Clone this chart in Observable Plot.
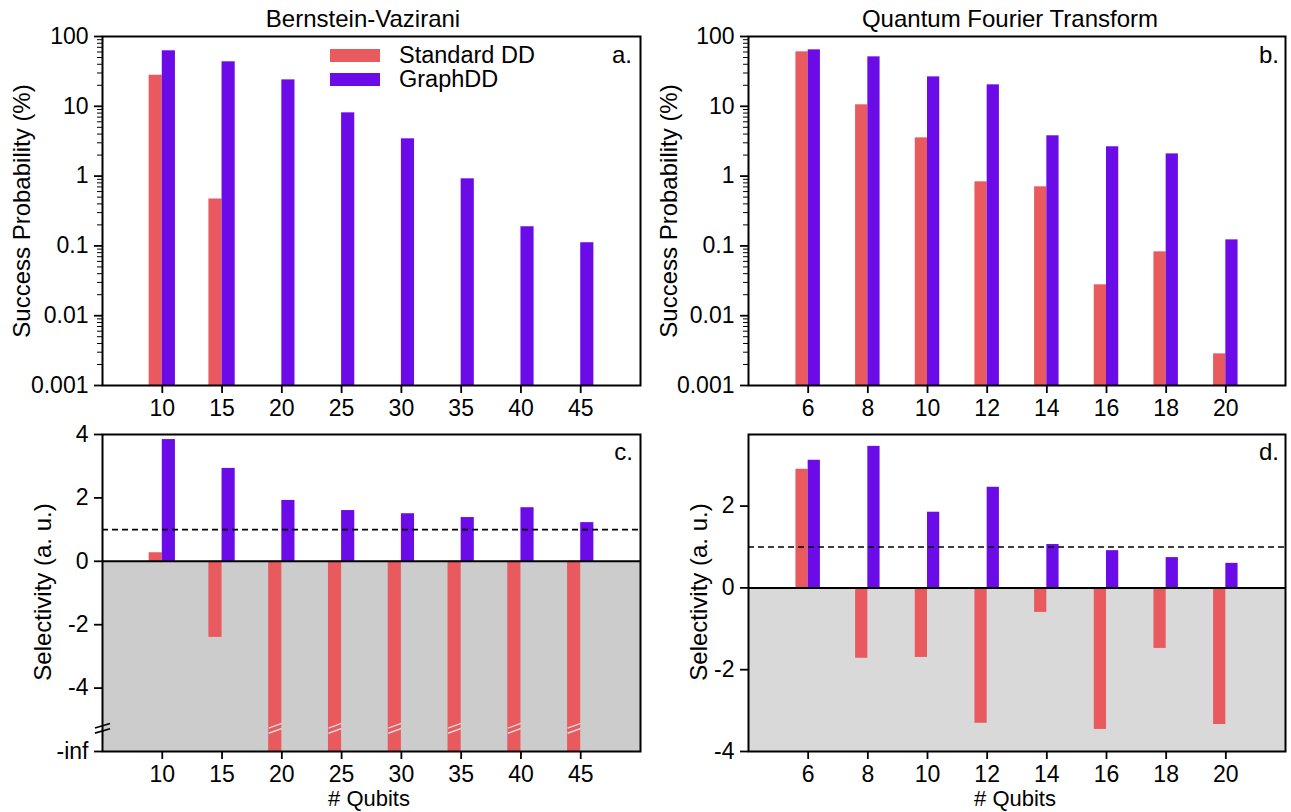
<!DOCTYPE html>
<html><head><meta charset="utf-8">
<script src="https://cdn.jsdelivr.net/npm/d3@7"></script>
<script src="https://cdn.jsdelivr.net/npm/@observablehq/plot@0.6"></script>
<style>
body{margin:0;background:#fff;}
#root{position:relative;width:1291px;height:812px;font-family:"Liberation Sans",Arial,sans-serif;color:#000;overflow:hidden;}
.p{position:absolute;}
.c{position:absolute;white-space:nowrap;font-size:24px;line-height:1;transform:translate(-50%,-50%);}
.x{position:absolute;white-space:nowrap;font-size:22px;line-height:1;transform:translate(-50%,-50%);}
.r{position:absolute;white-space:nowrap;font-size:24px;line-height:1;transform:translate(-100%,-50%);}
.l{position:absolute;white-space:nowrap;font-size:23.5px;line-height:0.9;transform:translate(0,-50%);}
.v{position:absolute;white-space:nowrap;font-size:24px;line-height:1;transform:translate(-50%,-50%) rotate(-90deg);}
.sw{position:absolute;width:50px;height:13px;}
</style></head><body><div id="root"></div>
<script>
// ---- data ----
const seriesNames = ["Standard DD", "GraphDD"];
const seriesColors = ["#E85A5E", "#6A0BE8"];

const bvQubits = [10, 15, 20, 25, 30, 35, 40, 45];
const bvStdProb = [27.9, 0.47, null, null, null, null, null, null];
const bvGraphProb = [62.4, 43.4, 23.9, 8.06, 3.42, 0.914, 0.188, 0.111];
const bvStdSel = [0.27, -2.4, -Infinity, -Infinity, -Infinity, -Infinity, -Infinity, -Infinity];
const bvGraphSel = [3.84, 2.93, 1.92, 1.6, 1.5, 1.38, 1.69, 1.22];

const qftQubits = [6, 8, 10, 12, 14, 16, 18, 20];
const qftStdProb = [60.3, 10.5, 3.53, 0.828, 0.702, 0.0277, 0.0822, 0.00284];
const qftGraphProb = [64.4, 51.1, 26.4, 20.3, 3.78, 2.63, 2.08, 0.122];
const qftStdSel = [2.9, -1.72, -1.7, -3.31, -0.6, -3.46, -1.48, -3.34];
const qftGraphSel = [3.12, 3.46, 1.85, 2.46, 1.06, 0.91, 0.74, 0.6];

const probTicks = [0.001, 0.01, 0.1, 1, 10, 100];
const probTickLabels = ["0.001", "0.01", "0.1", "1", "10", "100"];
const bvSelTicks = [-6, -4, -2, 0, 2, 4];
const bvSelTickLabels = ["-inf", "-4", "-2", "0", "2", "4"];
const qftSelTicks = [-4, -2, 0, 2];
const qftSelTickLabels = ["-4", "-2", "0", "2"];
const selectivityThreshold = 1;

// ---- drawing ----
const root = document.getElementById("root");
const FONT = "Liberation Sans, Arial, sans-serif";

function panel(o) {
  const rows = [];
  o.qubits.forEach((q, i) => {
    [o.std[i], o.graph[i]].forEach((v, s) => {
      if (v !== null && v !== undefined) rows.push({q, s, v});
    });
  });
  const base = o.log ? o.yDomain[0] : 0;
  const top = d => (d.v === -Infinity ? o.yDomain[0] : d.v);
  const x1 = d => (d.s === 0 ? d.q - o.barW : d.q);
  const x2 = d => (d.s === 0 ? d.q : d.q + o.barW);
  const marks = [];
  if (o.gray) {
    marks.push(Plot.rect([0], {x1: () => o.xDomain[0], x2: () => o.xDomain[1], y1: () => o.yDomain[0], y2: () => 0, fill: o.gray}));
  }
  [0, 1].forEach(s => {
    marks.push(Plot.rect(rows.filter(d => d.s === s), {x1, x2, y1: () => base, y2: top, fill: seriesColors[s]}));
  });
  if (o.breaks) {
    const inf = rows.filter(d => d.v === -Infinity);
    o.breaks.forEach(b => {
      marks.push(Plot.link(inf, {x1, x2, y1: () => b - 0.075, y2: () => b + 0.075, stroke: "#d8d8d8", strokeWidth: 1.4}));
      marks.push(Plot.link([0], {x1: () => o.xDomain[0] - 0.63, x2: () => o.xDomain[0] + 0.63, y1: () => b - 0.07, y2: () => b + 0.07, stroke: "#000", strokeWidth: 1.6}));
    });
  }
  if (!o.log) {
    marks.push(Plot.ruleY([0], {stroke: "#000", strokeWidth: 2}));
    marks.push(Plot.ruleY([selectivityThreshold], {stroke: "#000", strokeWidth: 1.6, strokeDasharray: "6,4"}));
  }
  marks.push(Plot.frame({stroke: "#000", strokeWidth: 2}));
  marks.push(Plot.axisX({ticks: o.qubits, tickFormat: d => String(d), tickSize: 8, tickPadding: 6, strokeWidth: 1.8, label: null, fontSize: 23}));
  marks.push(Plot.axisY({ticks: o.yTicks, tickFormat: d => o.yLabels[o.yTicks.indexOf(d)], tickSize: 8, tickPadding: 6, strokeWidth: 1.8, label: null, fontSize: 23}));
  if (o.log) {
    const minor = [];
    for (let k = 0; k < o.yTicks.length - 1; k++) for (let m = 2; m <= 9; m++) minor.push(o.yTicks[k] * m);
    marks.push(Plot.axisY({ticks: minor, tickFormat: () => "", tickSize: 5, strokeWidth: 1, label: null}));
  }
  const svg = Plot.plot({
    width: o.width, height: o.height,
    marginLeft: o.m[0], marginTop: o.m[1], marginRight: o.m[2], marginBottom: o.m[3],
    x: {domain: o.xDomain},
    y: o.log ? {type: "log", domain: o.yDomain} : {domain: o.yDomain},
    style: {fontFamily: FONT, fontSize: "23px", color: "#000", background: "transparent", overflow: "visible"},
    marks
  });
  svg.classList.add("p");
  svg.style.left = o.left + "px";
  svg.style.top = o.top + "px";
  root.appendChild(svg);
}

panel({left: 0, top: 0, width: 646, height: 420, m: [102, 36, 6, 35],
  qubits: bvQubits, std: bvStdProb, graph: bvGraphProb, xDomain: [5, 50], barW: 1.1,
  log: true, yDomain: [0.001, 100], yTicks: probTicks, yLabels: probTickLabels});
panel({left: 646, top: 0, width: 645, height: 420, m: [102, 36, 6, 35],
  qubits: qftQubits, std: qftStdProb, graph: qftGraphProb, xDomain: [4, 22], barW: 0.41,
  log: true, yDomain: [0.001, 100], yTicks: probTicks, yLabels: probTickLabels});
panel({left: 0, top: 420, width: 646, height: 392, m: [102, 14, 6, 61],
  qubits: bvQubits, std: bvStdSel, graph: bvGraphSel, xDomain: [5, 50], barW: 1.1,
  log: false, yDomain: [-6, 4], yTicks: bvSelTicks, yLabels: bvSelTickLabels,
  gray: "#cccccc", breaks: [-5.19, -5.35]});
panel({left: 646, top: 420, width: 645, height: 392, m: [102, 14, 6, 61],
  qubits: qftQubits, std: qftStdSel, graph: qftGraphSel, xDomain: [4, 22], barW: 0.41,
  log: false, yDomain: [-4, 3.75], yTicks: qftSelTicks, yLabels: qftSelTickLabels,
  gray: "#d9d9d9"});

// ---- text overlays ----
function txt(cls, s, x, y) {
  const d = document.createElement("div");
  d.className = cls; d.textContent = s;
  d.style.left = x + "px"; d.style.top = y + "px";
  root.appendChild(d);
}
txt("c", "Bernstein-Vazirani", 363, 19);
txt("c", "Quantum Fourier Transform", 1010, 19);
txt("v", "Success Probability (%)", 22, 211);
txt("v", "Success Probability (%)", 669, 211);
txt("v", "Selectivity (a. u.)", 43, 592);
txt("v", "Selectivity (a. u.)", 699, 592);
txt("x", "# Qubits", 369, 799);
txt("x", "# Qubits", 1015, 799);
txt("r", "a.", 632, 55);
txt("r", "b.", 1279, 55);
txt("r", "c.", 633, 452);
txt("r", "d.", 1279, 452);
seriesNames.forEach((n, i) => {
  const sw = document.createElement("div");
  sw.className = "sw";
  sw.style.left = "330px"; sw.style.top = (49 + 24 * i) + "px";
  sw.style.background = seriesColors[i];
  root.appendChild(sw);
  txt("l", n, 399, 56 + 24 * i);
});
</script></body></html>
